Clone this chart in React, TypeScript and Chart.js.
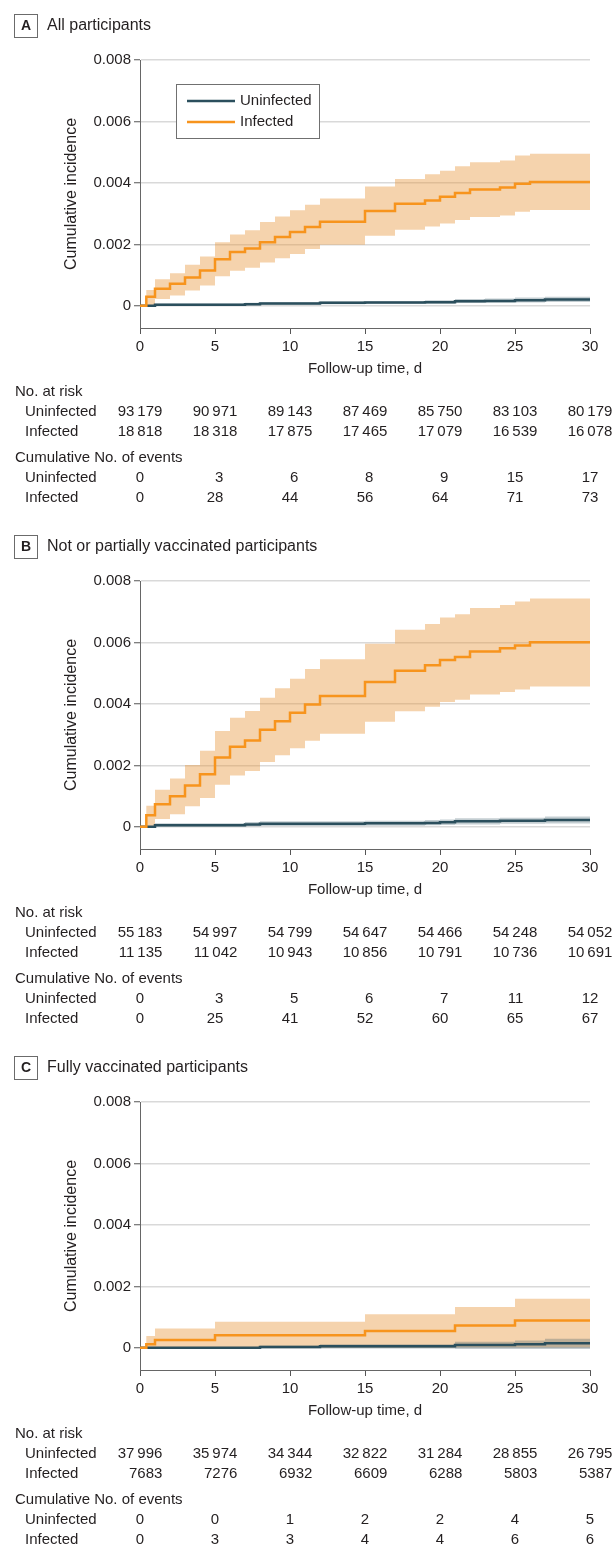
import React, { useEffect, useRef } from "react";
import { Chart, registerables } from "chart.js";

Chart.register(...registerables);

// ---------- shared ----------
const xTicks = [0, 5, 10, 15, 20, 25, 30];
const yTicks = [0, 0.002, 0.004, 0.006, 0.008];
const groupNames = ["Uninfected", "Infected"];
const xTitle = "Follow-up time, d";
const yTitle = "Cumulative incidence";
const riskHeader = "No. at risk";
const eventsHeader = "Cumulative No. of events";

// ---------- Panel A: All participants ----------
const aLetter = "A";
const aTitle = "All participants";
const aInfTimes = [0, 0.42, 1, 2, 3, 4, 5, 6, 7, 8, 9, 10, 11, 12, 15, 17, 19, 20, 21, 22, 24, 25, 26, 30];
const aInfEst = [0, 0.0003, 0.00056, 0.00072, 0.00092, 0.00115, 0.00152, 0.00175, 0.00187, 0.00207, 0.00224, 0.0024, 0.00257, 0.00274, 0.00309, 0.00332, 0.00343, 0.00355, 0.00367, 0.00379, 0.00385, 0.00397, 0.00403, 0.00403];
const aInfUpper = [0, 0.00052, 0.00087, 0.00106, 0.00134, 0.00161, 0.00207, 0.00232, 0.00246, 0.00273, 0.00291, 0.00311, 0.00329, 0.00349, 0.00388, 0.00413, 0.00428, 0.0044, 0.00454, 0.00467, 0.00473, 0.00489, 0.00495, 0.00495];
const aInfLower = [0, 0.00002, 0.00022, 0.00034, 0.0005, 0.00066, 0.00096, 0.00114, 0.00124, 0.00141, 0.00155, 0.00169, 0.00185, 0.00199, 0.00228, 0.00248, 0.00258, 0.00268, 0.00279, 0.00289, 0.00294, 0.00306, 0.00312, 0.00312];
const aUninfTimes = [0, 1, 7, 8, 12, 15, 19, 21, 23, 25, 27, 30];
const aUninfEst = [0, 0.00004, 0.00005, 0.00008, 0.0001, 0.00011, 0.00012, 0.00015, 0.00016, 0.00018, 0.00021, 0.00021];
const aUninfUpper = [0, 0.00008, 0.0001, 0.00013, 0.00015, 0.00016, 0.00018, 0.00022, 0.00024, 0.00027, 0.0003, 0.0003];
const aUninfLower = [0, 0.00001, 0.00002, 0.00004, 0.00005, 0.00006, 0.00007, 0.00009, 0.0001, 0.00011, 0.00013, 0.00013];
const aRiskUninf = [93179, 90971, 89143, 87469, 85750, 83103, 80179];
const aRiskInf = [18818, 18318, 17875, 17465, 17079, 16539, 16078];
const aEventsUninf = [0, 3, 6, 8, 9, 15, 17];
const aEventsInf = [0, 28, 44, 56, 64, 71, 73];

// ---------- Panel B: Not or partially vaccinated ----------
const bLetter = "B";
const bTitle = "Not or partially vaccinated participants";
const bInfTimes = [0, 0.42, 1, 2, 3, 4, 5, 6, 7, 8, 9, 10, 11, 12, 15, 17, 19, 20, 21, 22, 24, 25, 26, 30];
const bInfEst = [0, 0.00038, 0.00074, 0.001, 0.00135, 0.00171, 0.00226, 0.00261, 0.00281, 0.00316, 0.00344, 0.00371, 0.00398, 0.00426, 0.00471, 0.00508, 0.00526, 0.00543, 0.00553, 0.00571, 0.00581, 0.0059, 0.00601, 0.00601];
const bInfUpper = [0, 0.00069, 0.00121, 0.00157, 0.00201, 0.00248, 0.00312, 0.00355, 0.00377, 0.0042, 0.00451, 0.00482, 0.00514, 0.00545, 0.00596, 0.00641, 0.0066, 0.00681, 0.00692, 0.00712, 0.00722, 0.00733, 0.00743, 0.00743];
const bInfLower = [0, 0.00001, 0.00026, 0.00041, 0.00067, 0.00094, 0.00137, 0.00167, 0.00182, 0.00211, 0.00233, 0.00256, 0.0028, 0.00303, 0.00342, 0.00376, 0.00391, 0.00406, 0.00414, 0.00431, 0.00439, 0.00447, 0.00457, 0.00457];
const bUninfTimes = [0, 1, 7, 8, 15, 19, 20, 21, 24, 27, 30];
const bUninfEst = [0, 0.00005, 0.00008, 0.0001, 0.00012, 0.00013, 0.00015, 0.00018, 0.0002, 0.00022, 0.00022];
const bUninfUpper = [0, 0.00012, 0.00016, 0.00018, 0.0002, 0.00022, 0.00024, 0.00028, 0.0003, 0.00034, 0.00034];
const bUninfLower = [0, 0.00001, 0.00002, 0.00003, 0.00004, 0.00005, 0.00006, 0.00008, 0.0001, 0.00011, 0.00011];
const bRiskUninf = [55183, 54997, 54799, 54647, 54466, 54248, 54052];
const bRiskInf = [11135, 11042, 10943, 10856, 10791, 10736, 10691];
const bEventsUninf = [0, 3, 5, 6, 7, 11, 12];
const bEventsInf = [0, 25, 41, 52, 60, 65, 67];

// ---------- Panel C: Fully vaccinated ----------
const cLetter = "C";
const cTitle = "Fully vaccinated participants";
const cInfTimes = [0, 0.42, 1, 5, 15, 21, 25, 30];
const cInfEst = [0, 0.00012, 0.00026, 0.00041, 0.00055, 0.00073, 0.00089, 0.00089];
const cInfUpper = [0, 0.00039, 0.00063, 0.00085, 0.00109, 0.00133, 0.0016, 0.0016];
const cInfLower = [0, 0, 0, 0.00001, 0.00001, 0.00002, 0.00002, 0.00002];
const cUninfTimes = [0, 8, 12, 21, 25, 27, 30];
const cUninfEst = [0, 0.00003, 0.00005, 0.00009, 0.00012, 0.00015, 0.00015];
const cUninfUpper = [0, 0.00008, 0.00012, 0.0002, 0.00024, 0.0003, 0.0003];
const cUninfLower = [0, -0.00001, -0.00001, -0.00003, -0.00003, -0.00003, -0.00003];
const cRiskUninf = [37996, 35974, 34344, 32822, 31284, 28855, 26795];
const cRiskInf = [7683, 7276, 6932, 6609, 6288, 5803, 5387];
const cEventsUninf = [0, 0, 1, 2, 2, 4, 5];
const cEventsInf = [0, 3, 3, 4, 4, 6, 6];

// ---------- styling ----------
const FONT = "'Liberation Sans', Arial, sans-serif";
const TEXT = "#231f20";
const ORANGE = "#f7941d";
const ORANGE_BAND = "rgba(232,150,60,0.42)";
const TEAL = "#2b4f5d";
const TEAL_BAND = "rgba(44,78,92,0.28)";
const Y_MIN = -0.00072;
const Y_MAX = 0.008;

type PanelDef = {
  letter: string;
  title: string;
  height: number;
  legend: boolean;
  infTimes: number[]; infEst: number[]; infUpper: number[]; infLower: number[];
  uninfTimes: number[]; uninfEst: number[]; uninfUpper: number[]; uninfLower: number[];
  riskUninf: number[]; riskInf: number[]; eventsUninf: number[]; eventsInf: number[];
};

const panels: PanelDef[] = [
  { letter: aLetter, title: aTitle, height: 521, legend: true,
    infTimes: aInfTimes, infEst: aInfEst, infUpper: aInfUpper, infLower: aInfLower,
    uninfTimes: aUninfTimes, uninfEst: aUninfEst, uninfUpper: aUninfUpper, uninfLower: aUninfLower,
    riskUninf: aRiskUninf, riskInf: aRiskInf, eventsUninf: aEventsUninf, eventsInf: aEventsInf },
  { letter: bLetter, title: bTitle, height: 521, legend: false,
    infTimes: bInfTimes, infEst: bInfEst, infUpper: bInfUpper, infLower: bInfLower,
    uninfTimes: bUninfTimes, uninfEst: bUninfEst, uninfUpper: bUninfUpper, uninfLower: bUninfLower,
    riskUninf: bRiskUninf, riskInf: bRiskInf, eventsUninf: bEventsUninf, eventsInf: bEventsInf },
  { letter: cLetter, title: cTitle, height: 520, legend: false,
    infTimes: cInfTimes, infEst: cInfEst, infUpper: cInfUpper, infLower: cInfLower,
    uninfTimes: cUninfTimes, uninfEst: cUninfEst, uninfUpper: cUninfUpper, uninfLower: cUninfLower,
    riskUninf: cRiskUninf, riskInf: cRiskInf, eventsUninf: cEventsUninf, eventsInf: cEventsInf },
];

const fmt = (n: number) => {
  const s = String(n);
  return n >= 10000 ? s.slice(0, s.length - 3) + "\u2009" + s.slice(s.length - 3) : s;
};

const pts = (t: number[], v: number[]) => t.map((x, i) => ({ x, y: v[i] }));

const AREA_TOP = 60;
const AREA_BOTTOM = 328;
const AREA_LEFT = 140;
const AREA_RIGHT = 590;

function makePlugin(p: PanelDef) {
  return {
    id: "annot",
    afterDraw(chart: any) {
      const ctx = chart.ctx as CanvasRenderingContext2D;
      const xs = chart.scales.x;
      const area = chart.chartArea;
      ctx.save();
      ctx.fillStyle = TEXT;
      // header box + letter
      ctx.strokeStyle = "#6b6b6b";
      ctx.lineWidth = 1;
      ctx.strokeRect(14.5, 14.5, 23, 23);
      ctx.font = `bold 14px ${FONT}`;
      ctx.textAlign = "center";
      ctx.textBaseline = "middle";
      ctx.fillText(p.letter, 26, 26.5);
      ctx.font = `16px ${FONT}`;
      ctx.textAlign = "left";
      ctx.fillText(p.title, 47, 26);

      // axis titles
      ctx.font = `16px ${FONT}`;
      ctx.textAlign = "center";
      ctx.save();
      ctx.translate(72, (area.top + area.bottom) / 2);
      ctx.rotate(-Math.PI / 2);
      ctx.fillText(yTitle, 0, 0);
      ctx.restore();
      ctx.font = `15px ${FONT}`;
      ctx.fillText(xTitle, (area.left + area.right) / 2, 369);

      // legend
      if (p.legend) {
        ctx.fillStyle = "#ffffff";
        ctx.fillRect(176.5, 84.5, 143, 54);
        ctx.strokeStyle = "#707070";
        ctx.lineWidth = 1;
        ctx.strokeRect(176.5, 84.5, 143, 54);
        const items = [
          { label: groupNames[0], color: TEAL, y: 101 },
          { label: groupNames[1], color: ORANGE, y: 122 },
        ];
        items.forEach((it) => {
          ctx.strokeStyle = it.color;
          ctx.lineWidth = 2.5;
          ctx.beginPath();
          ctx.moveTo(187, it.y);
          ctx.lineTo(235, it.y);
          ctx.stroke();
          ctx.fillStyle = TEXT;
          ctx.font = `15px ${FONT}`;
          ctx.textAlign = "left";
          ctx.textBaseline = "middle";
          ctx.fillText(it.label, 240, it.y);
        });
      }

      // tables
      ctx.fillStyle = TEXT;
      ctx.font = `15px ${FONT}`;
      ctx.textBaseline = "middle";
      ctx.textAlign = "left";
      ctx.fillText(riskHeader, 15, 392);
      ctx.fillText(groupNames[0], 25, 412);
      ctx.fillText(groupNames[1], 25, 432);
      ctx.fillText(eventsHeader, 15, 458);
      ctx.fillText(groupNames[0], 25, 478);
      ctx.fillText(groupNames[1], 25, 498);

      const drawCols = (r1: string[], r2: string[], y1: number, y2: number) => {
        xTicks.forEach((t, i) => {
          const cx = xs.getPixelForValue(t);
          const w = Math.max(ctx.measureText(r1[i]).width, ctx.measureText(r2[i]).width);
          const rx = cx + w / 2;
          ctx.textAlign = "right";
          ctx.fillText(r1[i], rx, y1);
          ctx.fillText(r2[i], rx, y2);
        });
      };
      drawCols(p.riskUninf.map(fmt), p.riskInf.map(fmt), 412, 432);
      drawCols(p.eventsUninf.map(fmt), p.eventsInf.map(fmt), 478, 498);
      ctx.restore();
    },
  };
}

function Panel({ p }: { p: PanelDef }) {
  const ref = useRef<HTMLCanvasElement>(null);
  useEffect(() => {
    if (!ref.current) return;
    const stepLine = { stepped: true as const, pointRadius: 0, tension: 0 };
    const chart = new Chart(ref.current, {
      type: "line",
      data: {
        datasets: [
          { label: groupNames[1], data: pts(p.infTimes, p.infEst), borderColor: ORANGE, borderWidth: 2.5, fill: false, order: 0, ...stepLine },
          { label: groupNames[0], data: pts(p.uninfTimes, p.uninfEst), borderColor: TEAL, borderWidth: 2.5, fill: false, order: 1, ...stepLine },
          { label: "uninf-upper", data: pts(p.uninfTimes, p.uninfUpper), borderWidth: 0, borderColor: "transparent", backgroundColor: TEAL_BAND, fill: "+1", order: 2, ...stepLine },
          { label: "uninf-lower", data: pts(p.uninfTimes, p.uninfLower), borderWidth: 0, borderColor: "transparent", fill: false, order: 2, ...stepLine },
          { label: "inf-upper", data: pts(p.infTimes, p.infUpper), borderWidth: 0, borderColor: "transparent", backgroundColor: ORANGE_BAND, fill: "+1", order: 3, ...stepLine },
          { label: "inf-lower", data: pts(p.infTimes, p.infLower), borderWidth: 0, borderColor: "transparent", fill: false, order: 3, ...stepLine },
        ],
      },
      options: {
        responsive: false,
        animation: false,
        events: [],
        layout: { padding: { top: AREA_TOP, right: 615 - AREA_RIGHT, left: 0, bottom: 0 } },
        plugins: { legend: { display: false }, tooltip: { enabled: false } },
        scales: {
          x: {
            type: "linear",
            min: 0,
            max: 30,
            afterBuildTicks: (s: any) => { s.ticks = xTicks.map((v) => ({ value: v })); },
            afterFit: (s: any) => { s.height = p.height - AREA_BOTTOM; },
            ticks: { font: { family: FONT, size: 15 }, color: TEXT, padding: 4, maxRotation: 0, autoSkip: false },
            grid: { drawOnChartArea: false, drawTicks: true, tickLength: 6, tickColor: "#555", tickWidth: 1 },
            border: { display: true, color: "#666", width: 1 },
          },
          y: {
            type: "linear",
            min: Y_MIN,
            max: Y_MAX,
            afterBuildTicks: (s: any) => { s.ticks = yTicks.map((v) => ({ value: v })); },
            afterFit: (s: any) => { s.width = AREA_LEFT; },
            ticks: {
              font: { family: FONT, size: 15 },
              color: TEXT,
              padding: 3,
              autoSkip: false,
              callback: (v: any) => (Number(v) === 0 ? "0" : Number(v).toFixed(3)),
            },
            grid: { color: "#d9d9d9", lineWidth: 1.5, drawTicks: true, tickLength: 6, tickColor: "#555", tickWidth: 1 },
            border: { display: true, color: "#666", width: 1 },
          },
        },
      },
      plugins: [makePlugin(p)],
    } as any);
    return () => chart.destroy();
  }, []);
  return <canvas ref={ref} width={615} height={p.height} style={{ display: "block", width: 615, height: p.height }} />;
}

export default function App() {
  return (
    <div style={{ position: "absolute", left: 0, top: 0, width: 615, height: 1562, overflow: "hidden", background: "#fff" }}>
      {panels.map((p) => (
        <Panel key={p.letter} p={p} />
      ))}
    </div>
  );
}
